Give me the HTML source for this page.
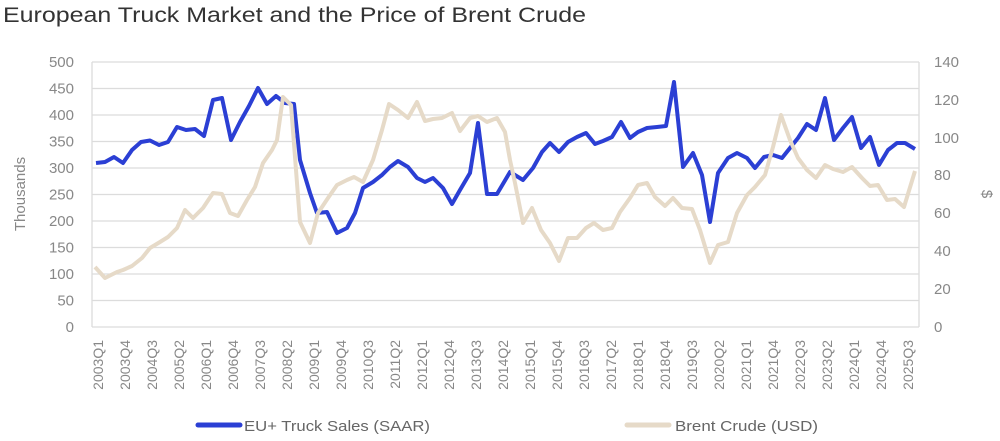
<!DOCTYPE html>
<html><head><meta charset="utf-8"><style>
body{margin:0;background:#fff;}
svg{display:block;font-family:"Liberation Sans",sans-serif;}
</style></head><body>
<svg width="1000" height="441" viewBox="0 0 1000 441">
<text x="3" y="22" font-size="21" fill="#333" textLength="583" lengthAdjust="spacingAndGlyphs">European Truck Market and the Price of Brent Crude</text>
<g stroke="#dcdcdc" stroke-width="1.3">
<line x1="92" y1="62" x2="919" y2="62"/>
<line x1="92" y1="88.5" x2="919" y2="88.5"/>
<line x1="92" y1="115" x2="919" y2="115"/>
<line x1="92" y1="141.5" x2="919" y2="141.5"/>
<line x1="92" y1="168" x2="919" y2="168"/>
<line x1="92" y1="194.5" x2="919" y2="194.5"/>
<line x1="92" y1="221" x2="919" y2="221"/>
<line x1="92" y1="247.5" x2="919" y2="247.5"/>
<line x1="92" y1="274" x2="919" y2="274"/>
<line x1="92" y1="300.5" x2="919" y2="300.5"/>
<line x1="92" y1="327" x2="919" y2="327"/>
<line x1="92" y1="62" x2="92" y2="327"/>
<line x1="919" y1="62" x2="919" y2="327"/>
</g>
<g font-size="15" fill="#888" text-anchor="end">
<text x="74" y="67">500</text><text x="74" y="93.5">450</text><text x="74" y="120">400</text><text x="74" y="146.5">350</text><text x="74" y="173">300</text><text x="74" y="199.5">250</text><text x="74" y="226">200</text><text x="74" y="252.5">150</text><text x="74" y="279">100</text><text x="74" y="305.5">50</text><text x="74" y="332">0</text>
</g>
<g font-size="15" fill="#888">
<text x="934" y="67">140</text><text x="934" y="105">120</text><text x="934" y="143">100</text><text x="934" y="180">80</text><text x="934" y="218">60</text><text x="934" y="256">40</text><text x="934" y="294">20</text><text x="934" y="332">0</text>
</g>
<text transform="translate(25,194) rotate(-90)" font-size="15" fill="#888" text-anchor="middle">Thousands</text>
<text transform="translate(982,194) rotate(90)" font-size="15" fill="#888" text-anchor="middle">$</text>
<polyline fill="none" stroke="#2b3fd4" stroke-width="4" stroke-linejoin="round" points="96,163 105,162 114,157 123,163 132,150 141,142 150,140.5 159,145 168,142 177,127 186,130 195,129 204,136 213,100 222,98 231,140 240,122 249,106 258,88 267,104 276,96 285,103 294,104 300,160 310,193 317,213 327,212 337,233 347,228 355,213 363,188 373,182 382,175 390,167 398,161 408,167 417,178 425,182 433,178 443,188 452,204 460,190 470,173 478,123 487,194 497,194 510,172 523,180 533,168 542,152 550,143 559,152 568,142 577,137 586,133 595,144 603,141 612,137 621,122 630,138 638,132 647,128 657,127 666,126 674,82 683,167 693,153 702,175 710,222 718,173 728,158 737,153 747,158 755,168 764,157 773,155 782,158 790,148 798,138 807,124 816,130 825,98 834,140 843,128 852,117 861,148 870,137 879,165 888,150 897,143 905,143 915,149"/>
<polyline fill="none" stroke="#e6dac8" stroke-width="4" stroke-linejoin="round" points="95,267 105,278 117,272 123,270 132,266 142,258 150,248 160,242 168,237 177,228 185,210 193,218 203,208 213,193 222,194 230,213 238,216 247,200 255,187 263,163 272,150 277,140 283,97 291,105 300,222 310,243 318,213 328,198 337,185 347,180 354,177 363,182 373,160 382,130 389,104 398,110 408,118 417,102 425,121 433,119 442,118 452,113 460,131 470,118 478,116 487,122 497,118 505,132 510,160 515,183 523,223 532,208 541,230 550,243 559,261 568,238 577,238 586,228 594,223 603,230 612,228 620,212 630,198 638,185 647,183 655,197 665,206 673,198 682,208 692,209 700,230 710,263 718,245 728,242 737,213 747,195 755,187 765,175 773,147 781,115 790,140 798,158 807,170 816,178 825,165 833,169 843,172 852,167 862,178 870,186 878,185 887,200 895,199 904,207 915,171"/>
<line x1="198" y1="425" x2="240" y2="425" stroke="#2b3fd4" stroke-width="5" stroke-linecap="round"/>
<text x="244" y="431" font-size="15" fill="#666" textLength="186" lengthAdjust="spacingAndGlyphs">EU+ Truck Sales (SAAR)</text>
<line x1="627" y1="425" x2="669" y2="425" stroke="#e6dac8" stroke-width="5" stroke-linecap="round"/>
<text x="675" y="431" font-size="15" fill="#666" textLength="143" lengthAdjust="spacingAndGlyphs">Brent Crude (USD)</text>
<g font-size="14" fill="#888" text-anchor="end">
<text transform="translate(103,340) rotate(-90)">2003Q1</text>
<text transform="translate(130,340) rotate(-90)">2003Q4</text>
<text transform="translate(157,340) rotate(-90)">2004Q3</text>
<text transform="translate(184,340) rotate(-90)">2005Q2</text>
<text transform="translate(211,340) rotate(-90)">2006Q1</text>
<text transform="translate(238,340) rotate(-90)">2006Q4</text>
<text transform="translate(265,340) rotate(-90)">2007Q3</text>
<text transform="translate(292,340) rotate(-90)">2008Q2</text>
<text transform="translate(319,340) rotate(-90)">2009Q1</text>
<text transform="translate(346,340) rotate(-90)">2009Q4</text>
<text transform="translate(373,340) rotate(-90)">2010Q3</text>
<text transform="translate(400,340) rotate(-90)">2011Q2</text>
<text transform="translate(427,340) rotate(-90)">2012Q1</text>
<text transform="translate(454,340) rotate(-90)">2012Q4</text>
<text transform="translate(481,340) rotate(-90)">2013Q3</text>
<text transform="translate(508,340) rotate(-90)">2014Q2</text>
<text transform="translate(535,340) rotate(-90)">2015Q1</text>
<text transform="translate(562,340) rotate(-90)">2015Q4</text>
<text transform="translate(589,340) rotate(-90)">2016Q3</text>
<text transform="translate(616,340) rotate(-90)">2017Q2</text>
<text transform="translate(643,340) rotate(-90)">2018Q1</text>
<text transform="translate(670,340) rotate(-90)">2018Q4</text>
<text transform="translate(697,340) rotate(-90)">2019Q3</text>
<text transform="translate(724,340) rotate(-90)">2020Q2</text>
<text transform="translate(751,340) rotate(-90)">2021Q1</text>
<text transform="translate(778,340) rotate(-90)">2021Q4</text>
<text transform="translate(805,340) rotate(-90)">2022Q3</text>
<text transform="translate(832,340) rotate(-90)">2023Q2</text>
<text transform="translate(859,340) rotate(-90)">2024Q1</text>
<text transform="translate(886,340) rotate(-90)">2024Q4</text>
<text transform="translate(913,340) rotate(-90)">2025Q3</text>
</g>
</svg>
</body></html>
